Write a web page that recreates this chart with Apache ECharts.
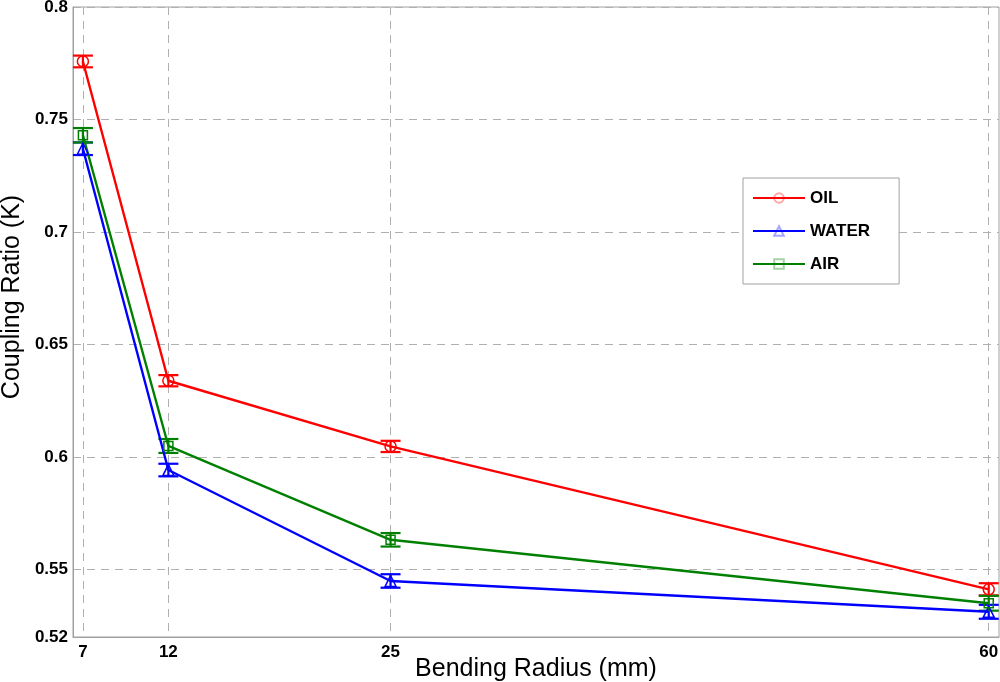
<!DOCTYPE html>
<html>
<head>
<meta charset="utf-8">
<script src="https://cdn.jsdelivr.net/npm/echarts@6/dist/echarts.min.js"></script>
<style>
html,body{margin:0;padding:0;background:#fff;}
#chart{width:1000px;height:682px;}
</style>
</head>
<body>
<div id="chart"></div>
<script>
const radius = [7, 12, 25, 60];
const xTicks = [7, 12, 25, 60];
const yTicks = [0.52, 0.55, 0.6, 0.65, 0.7, 0.75, 0.8];
const oil = [0.7758, 0.6339, 0.6047, 0.5412];
const oilErr = [0.0026, 0.0025, 0.0025, 0.0027];
const water = [0.7370, 0.5942, 0.5449, 0.5312];
const waterErr = [0.0028, 0.0028, 0.0030, 0.0031];
const air = [0.7430, 0.6049, 0.5632, 0.5350];
const airErr = [0.0032, 0.0031, 0.0030, 0.0033];

const RED = '#ff0000', BLUE = '#0000ff', GREEN = '#008000';

function pairs(vals) { return radius.map((x, i) => [x, vals[i]]); }
function errData(vals, errs) { return radius.map((x, i) => [x, vals[i] - errs[i], vals[i] + errs[i]]); }

function errSeries(name, vals, errs, color) {
  return {
    name: name,
    type: 'custom',
    data: errData(vals, errs),
    z: 3,
    silent: true,
    renderItem: function (params, api) {
      const x = api.value(0);
      const lo = api.coord([x, api.value(1)]);
      const hi = api.coord([x, api.value(2)]);
      const w = 10;
      const style = { stroke: color, lineWidth: 2.2, fill: null };
      return {
        type: 'group',
        children: [
          { type: 'line', shape: { x1: lo[0], y1: lo[1], x2: hi[0], y2: hi[1] }, style: style },
          { type: 'line', shape: { x1: lo[0] - w, y1: lo[1], x2: lo[0] + w, y2: lo[1] }, style: style },
          { type: 'line', shape: { x1: hi[0] - w, y1: hi[1], x2: hi[0] + w, y2: hi[1] }, style: style }
        ]
      };
    }
  };
}

function lineSeries(name, vals, color, symbol, size) {
  return {
    name: name,
    type: 'line',
    data: pairs(vals),
    symbol: symbol,
    symbolSize: size,
    showSymbol: true,
    z: 4,
    lineStyle: { color: color, width: 2.4 },
    itemStyle: { color: 'rgba(255,255,255,0)', borderColor: color, borderWidth: 1.5 },
    emphasis: { disabled: true }
  };
}

const chart = echarts.init(document.getElementById('chart'), null, { renderer: 'canvas' });
chart.setOption({
  animation: false,
  backgroundColor: '#fff',
  textStyle: { fontFamily: 'Liberation Sans, Arial, sans-serif' },
  grid: { left: 73, right: 1, top: 7, bottom: 45, show: true, borderColor: '#a0a0a0', borderWidth: 1, containLabel: false, outerBoundsMode: 'none' },
  legend: {
    data: ['OIL', 'WATER', 'AIR'],
    orient: 'vertical',
    left: 743,
    top: 178,
    padding: [10, 29, 10, 9],
    itemGap: 13,
    itemWidth: 52,
    itemHeight: 12,
    backgroundColor: '#fff',
    borderColor: '#a0a0a0',
    borderWidth: 1,
    borderRadius: 0,
    itemStyle: { opacity: 0.35 },
    lineStyle: { opacity: 1 },
    textStyle: { fontSize: 17, fontWeight: 'bold', color: '#000', lineHeight: 20, padding: [0, 0, 0, 0] }
  },
  xAxis: {
    type: 'value',
    min: 6.42,
    max: 60.6,
    name: 'Bending Radius (mm)',
    nameLocation: 'middle',
    nameMoveOverlap: false,
    nameGap: 20,
    nameTextStyle: { fontSize: 25, color: '#000', verticalAlign: 'top' },
    axisLine: { show: true, lineStyle: { color: '#a0a0a0' } },
    axisTick: { show: false, customValues: xTicks },
    axisLabel: { customValues: xTicks, fontSize: 17, fontWeight: 'bold', color: '#000', margin: 7 },
    splitLine: { show: true, lineStyle: { color: '#b0b0b0', type: [8, 6], width: 1 } }
  },
  yAxis: {
    type: 'value',
    min: 0.52,
    max: 0.8,
    name: 'Coupling Ratio (K)',
    nameLocation: 'middle',
    nameMoveOverlap: false,
    nameGap: 48,
    nameTextStyle: { fontSize: 25, color: '#000', padding: [0, 0, 0, 50] },
    axisLine: { show: true, lineStyle: { color: '#a0a0a0' } },
    axisTick: { show: false, customValues: yTicks },
    axisLabel: { customValues: yTicks, fontSize: 17, fontWeight: 'bold', color: '#000', margin: 5,
      formatter: function (v) { return String(+v.toFixed(2)); } },
    splitLine: { show: true, lineStyle: { color: '#b0b0b0', type: [8, 6], width: 1 } }
  },
  series: [
    lineSeries('OIL', oil, RED, 'circle', 11),
    lineSeries('WATER', water, BLUE, 'triangle', 11),
    lineSeries('AIR', air, GREEN, 'rect', 9),
    errSeries('OIL err', oil, oilErr, RED),
    errSeries('WATER err', water, waterErr, BLUE),
    errSeries('AIR err', air, airErr, GREEN)
  ]
});
</script>
</body>
</html>
